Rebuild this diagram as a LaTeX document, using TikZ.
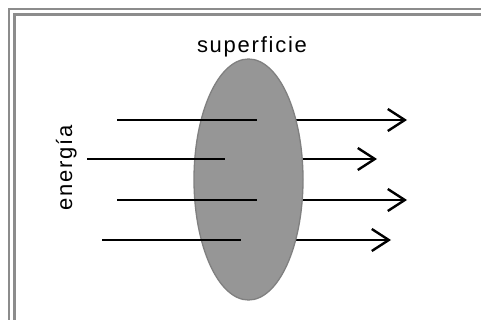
\documentclass[tikz,border=0pt]{standalone}
\usepackage{fontspec}
\setmainfont{Liberation Sans}
\usetikzlibrary{arrows.meta,shapes.geometric}
\definecolor{framegray}{RGB}{140,140,140}
\definecolor{surffill}{RGB}{150,150,150}
\definecolor{surfedge}{RGB}{128,128,128}
\begin{document}
\begin{tikzpicture}[x=1pt,y=-1pt,
  lbl/.style={font=\fontsize{22}{26}\selectfont\addfontfeature{LetterSpace=8}, inner sep=0pt},
  ray/.style={line width=2.4pt, -{Straight Barb[length=17pt,width=22pt,line width=2.4pt]}},
  raypart/.style={line width=2.4pt},
  frameline/.style={draw=framegray},
  surfshape/.style={ellipse, fill=surffill, draw=surfedge, line width=1.3pt, inner sep=0pt,
    minimum width=109pt, minimum height=241pt}]
\useasboundingbox (0,0) rectangle (481,320);
\clip (0,0) rectangle (481,320);
\fill[white] (0,0) rectangle (481,320);
% frame
\draw[frameline, line width=2pt] (9,9) rectangle (500,340);
\draw[frameline, line width=2.7pt] (14.6,14.6) rectangle (500,340);
% coordinates
\coordinate (s1) at (117,120); \coordinate (m1) at (256.7,120); \coordinate (t1) at (407,120);
\coordinate (s2) at (87,159);  \coordinate (m2) at (225,159);   \coordinate (t2) at (377,159);
\coordinate (s3) at (117,200); \coordinate (m3) at (256.7,200); \coordinate (t3) at (407,200);
\coordinate (s4) at (102,240); \coordinate (m4) at (240.7,240); \coordinate (t4) at (391,240);
% full rays (behind surface)
\draw[ray] (s1) -- (t1);
\draw[ray] (s2) -- (t2);
\draw[ray] (s3) -- (t3);
\draw[ray] (s4) -- (t4);
% surface
\node[surfshape] (surf) at (248.5,179.5) {};
% ray parts in front
\draw[raypart] (s1) -- (m1);
\draw[raypart] (s2) -- (m2);
\draw[raypart] (s3) -- (m3);
\draw[raypart] (s4) -- (m4);
% labels
\node[lbl, anchor=base] (sup) at (252,52.3) {superficie};
\node[lbl, anchor=base, rotate=90] (en) at (72,168) {energía};
\end{tikzpicture}
\end{document}
